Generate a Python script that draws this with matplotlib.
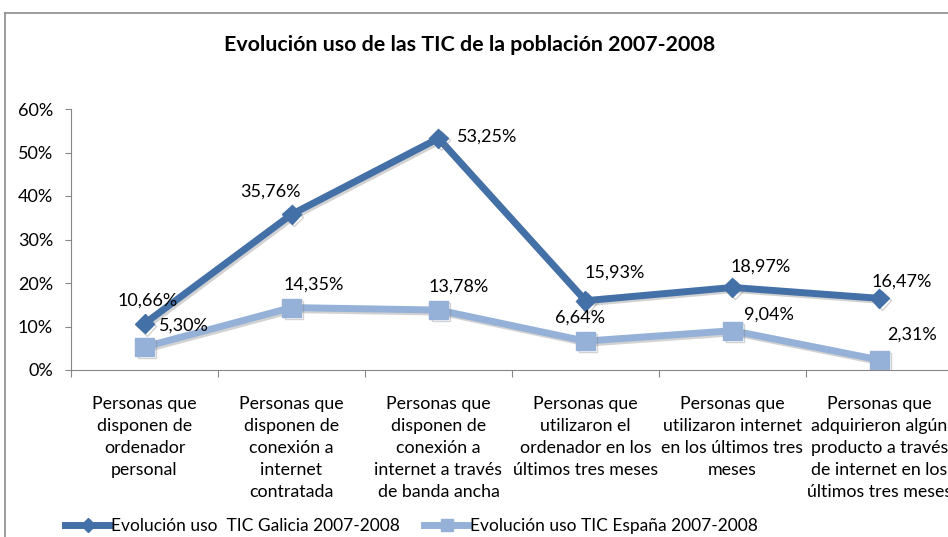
import matplotlib
matplotlib.use("Agg")
import matplotlib.pyplot as plt
from matplotlib.lines import Line2D
import matplotlib.patheffects as pe

plt.rcParams['font.family'] = ['Lato', 'DejaVu Sans']

categorias = [
    "Personas que\ndisponen de\nordenador\npersonal",
    "Personas que\ndisponen de\nconexión a\ninternet\ncontratada",
    "Personas que\ndisponen de\nconexión a\ninternet a través\nde banda ancha",
    "Personas que\nutilizaron el\nordenador en los\núltimos tres meses",
    "Personas que\nutilizaron internet\nen los últimos tres\nmeses",
    "Personas que\nadquirieron algún\nproducto a través\nde internet en los\núltimos tres meses",
]
galicia = [10.66, 35.76, 53.25, 15.93, 18.97, 16.47]
espana = [5.30, 14.35, 13.78, 6.64, 9.04, 2.31]
yticks = [0, 10, 20, 30, 40, 50, 60]

# label offsets from the point, in pixels (x right, y up)
off_gal = [(3, 23), (-21, 23), (49, 2), (29, 28), (28, 21), (22, 17)]
off_esp = [(39, 21), (22, 23), (20, 23), (-5, 23), (36, 16), (33, 25)]

W, H = 948, 537
fig = plt.figure(figsize=(W / 100, H / 100), dpi=100)
ax = fig.add_axes([71 / W, 1 - 370 / H, 882 / W, 261 / H])

c_gal = '#4470A8'
c_esp = '#95B1D8'
x = list(range(len(categorias)))
shadow = [pe.SimpleLineShadow(offset=(1.5, -1.5), shadow_color='grey', alpha=0.35), pe.Normal()]

ax.plot(x, espana, color=c_esp, lw=5, marker='s', ms=13, mfc=c_esp, mec=c_esp,
        path_effects=shadow, zorder=3)
ax.plot(x, galicia, color=c_gal, lw=5, marker='D', ms=10, mfc=c_gal, mec=c_gal,
        path_effects=shadow, zorder=4)

px = 0.72  # points per pixel at dpi 100
for i, v in enumerate(galicia):
    ax.annotate(f"{v:.2f}%".replace('.', ','), (i, v),
                xytext=(off_gal[i][0] * px, off_gal[i][1] * px), textcoords='offset points',
                ha='center', va='center', fontsize=13, color='black', zorder=6)
for i, v in enumerate(espana):
    ax.annotate(f"{v:.2f}%".replace('.', ','), (i, v),
                xytext=(off_esp[i][0] * px, off_esp[i][1] * px), textcoords='offset points',
                ha='center', va='center', fontsize=13, color='black', zorder=6)

ax.set_xlim(-0.5, len(categorias) - 0.5)
ax.set_ylim(0, 60)
ax.set_yticks(yticks)
ax.set_yticklabels([f"{t}%" for t in yticks], fontsize=13)
ax.set_xticks([i - 0.5 for i in range(len(categorias) + 1)])
ax.set_xticklabels([])
ax.set_xticks(x, minor=True)
ax.set_xticklabels(categorias, minor=True, fontsize=12.8, linespacing=1.45)
ax.tick_params(axis='x', which='minor', length=0, pad=19)
ax.tick_params(axis='x', which='major', length=5, color='#868686')
ax.tick_params(axis='y', length=4, color='#868686', pad=9)
for s in ['top', 'right']:
    ax.spines[s].set_visible(False)
for s in ['left', 'bottom']:
    ax.spines[s].set_color('#868686')

fig.text(470 / W, 1 - 45 / H, "Evolución uso de las TIC de la población 2007-2008",
         ha='center', va='center', fontsize=15.4, fontweight='bold')

h_gal = Line2D([], [], color=c_gal, lw=5, marker='D', ms=7, mfc=c_gal, mec=c_gal)
h_esp = Line2D([], [], color=c_esp, lw=5, marker='s', ms=9, mfc=c_esp, mec=c_esp)
fig.legend([h_gal, h_esp],
           ['Evolución uso  TIC Galicia 2007-2008', 'Evolución uso TIC España 2007-2008'],
           loc='center left', bbox_to_anchor=(65 / W, 1 - 526 / H),
           ncol=2, frameon=False, fontsize=12.5, handlelength=2.6, handletextpad=0.05,
           columnspacing=1.4, borderaxespad=0, borderpad=0)

# outer chart frame (cropped)
fig.add_artist(Line2D([5 / W, 5 / W], [0, 1 - 13 / H], color='#8c8c8c', lw=1.2))
fig.add_artist(Line2D([5 / W, 1], [1 - 13 / H, 1 - 13 / H], color='#8c8c8c', lw=1.2))

fig.savefig('out.png', dpi=100)
